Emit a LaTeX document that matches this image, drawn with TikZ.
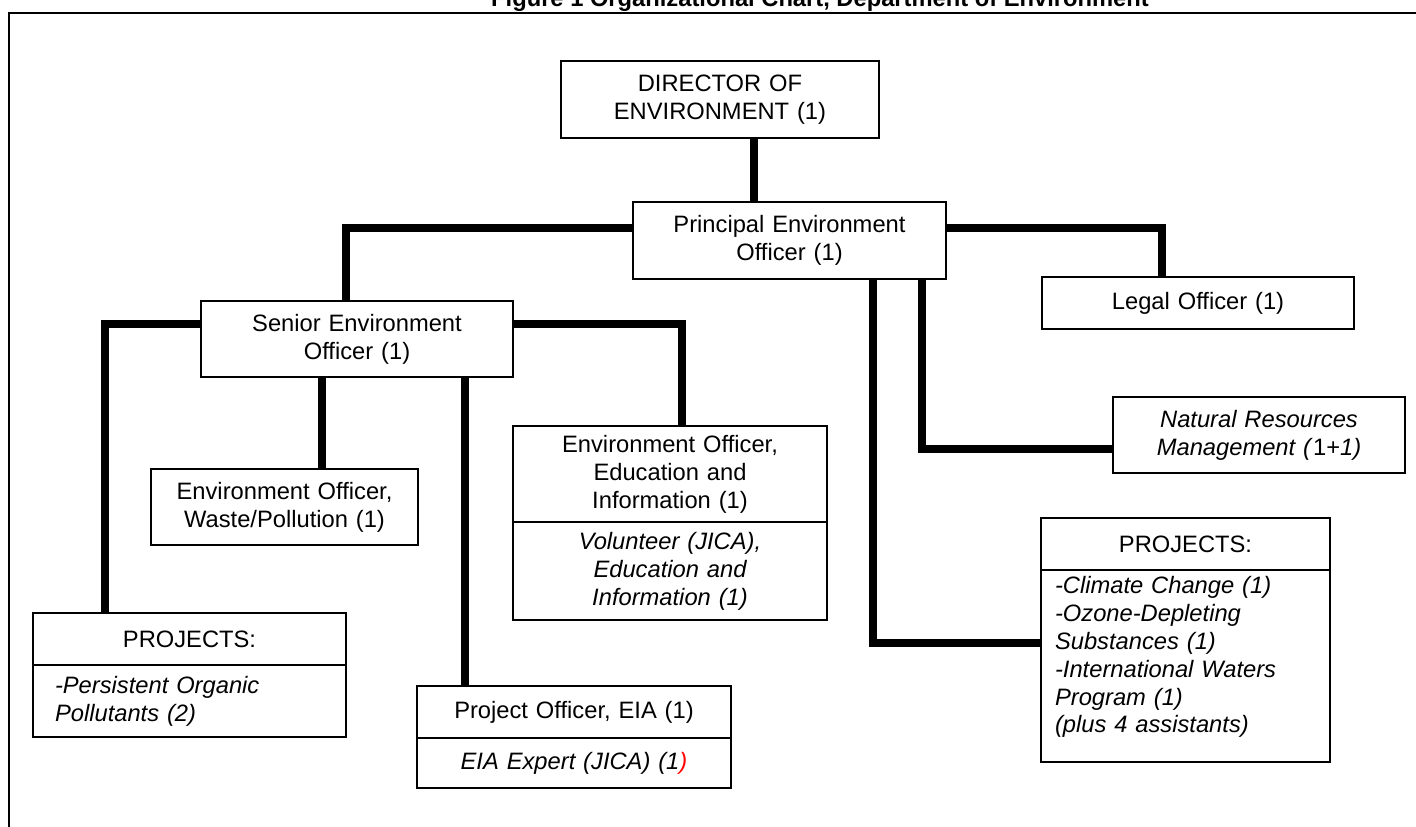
\documentclass[tikz,border=0pt]{standalone}
\usepackage{fontspec}
\setmainfont{Liberation Sans}

\begin{document}
\begin{tikzpicture}[x=0.02cm,y=-0.02cm]
\tikzstyle{every node}+=[inner sep=0pt]
\tikzstyle{unit}=[draw=black, line width=1.1pt, align=center, font=\fontsize{13.5}{15.9}\selectfont]
\tikzstyle{sub}=[unit, font=\fontsize{13.5}{15.9}\selectfont\itshape]
\tikzstyle{link}=[black, line width=4.6pt]
\useasboundingbox (0,0) rectangle (1416,827);
\node [anchor=base, font=\fontsize{13.5}{15.9}\selectfont\bfseries] (title) at (820,7) {Figure 1 Organizational Chart, Department of Environment};
\draw [black, line width=1.3pt] (1416,13) -- (9,13) -- (9,827);
\node [unit, text width=6.36cm, minimum height=1.54cm] (dir) at (720,99.5) {DIRECTOR OF\\ENVIRONMENT (1)};
\node [unit, text width=6.26cm, minimum height=1.54cm] (prin) at (789.5,240.5) {Principal Environment\\Officer (1)};
\node [unit, text width=6.24cm, minimum height=1.04cm] (legal) at (1198,303) {Legal Officer (1)};
\node [sub, text width=5.84cm, minimum height=1.52cm] (nrm) at (1259,435) {Natural Resources\\Management (\textup{1+}1)};
\node [unit, text width=5.78cm, minimum height=1.04cm] (pjRt) at (1185.5,544) {PROJECTS:};
\node [sub, align=left, text width=5.22cm, inner xsep=0.28cm, minimum height=3.84cm] (pjRs) at (1185.5,666) {-Climate Change (1)\\-Ozone-Depleting\\Substances (1)\\-International Waters\\Program (1)\\(plus 4 assistants)\\[-0.1cm]\mbox{}};
\node [unit, text width=6.24cm, minimum height=1.52cm] (sen) at (357,339) {Senior Environment\\Officer (1)};
\node [unit, text width=5.34cm, minimum height=1.52cm] (waste) at (284.5,507) {Environment Officer,\\Waste/Pollution (1)};
\node [unit, text width=6.28cm, minimum height=1.92cm] (eduT) at (670,474) {Environment Officer,\\Education and\\Information (1)};
\node [sub, text width=6.28cm, minimum height=1.96cm] (eduS) at (670,571) {Volunteer (JICA),\\Education and\\Information (1)};
\node [unit, text width=6.28cm, minimum height=1.04cm] (eiaT) at (574,712) {Project Officer, EIA (1)};
\node [sub, text width=6.28cm, minimum height=1.0cm] (eiaS) at (574,763) {EIA Expert (JICA) (1\textcolor{red}{)}};
\node [unit, text width=6.26cm, minimum height=1.04cm] (pjLt) at (189.5,639) {PROJECTS:};
\node [sub, align=left, text width=5.38cm, inner xsep=0.44cm, minimum height=1.44cm] (pjLs) at (189.5,701) {-Persistent Organic\\Pollutants (2)};
\coordinate (dv) at (754,0);
\draw [link] (dir.south -| dv) -- (prin.north -| dv);
\coordinate (pl) at (346,228);
\draw [link] (prin.west |- pl) -- (pl) -- (pl |- sen.north);
\coordinate (pr) at (1162,228);
\draw [link] (prin.east |- pr) -- (pr) -- (pr |- legal.north);
\coordinate (pa) at (873,643);
\draw [link] (prin.south -| pa) -- (pa) -- (pa -| pjRs.west);
\coordinate (pb) at (922,449);
\draw [link] (prin.south -| pb) -- (pb) -- (pb -| nrm.west);
\coordinate (sl) at (105,324);
\draw [link] (sen.west |- sl) -- (sl) -- (sl |- pjLt.north);
\coordinate (sr) at (682,324);
\draw [link] (sen.east |- sr) -- (sr) -- (sr |- eduT.north);
\coordinate (sa) at (322,0);
\draw [link] (sen.south -| sa) -- (waste.north -| sa);
\coordinate (sb) at (465,0);
\draw [link] (sen.south -| sb) -- (eiaT.north -| sb);
\end{tikzpicture}
\end{document}
